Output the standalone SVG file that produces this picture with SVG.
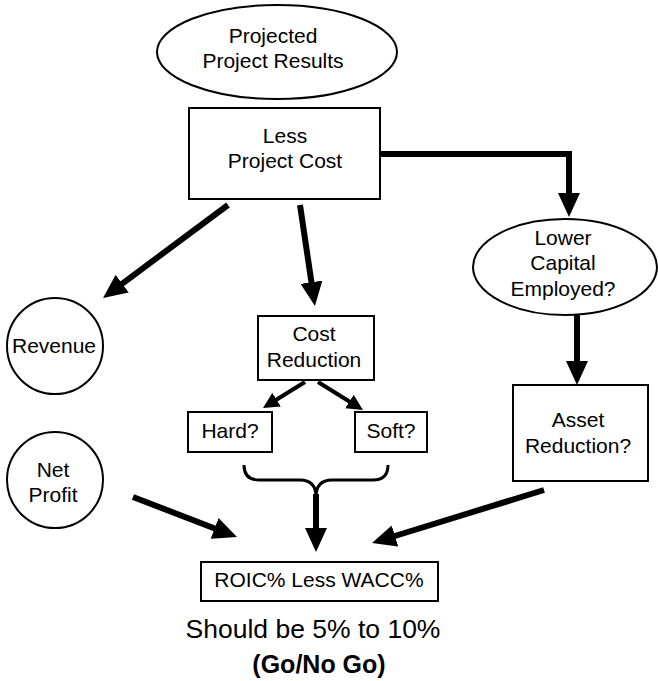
<svg xmlns="http://www.w3.org/2000/svg" width="658" height="681" viewBox="0 0 658 681">
  <style>
    .shape { fill: #ffffff; stroke: #000000; stroke-width: 2; }
    .label { font-family: "Liberation Sans", Arial, Helvetica, sans-serif; font-size: 21px; fill: #000000; text-anchor: middle; }
    .big { font-family: "Liberation Sans", Arial, Helvetica, sans-serif; font-size: 26.5px; fill: #000000; text-anchor: middle; }
    .bold { font-family: "Liberation Sans", Arial, Helvetica, sans-serif; font-size: 25px; font-weight: bold; fill: #000000; text-anchor: middle; }
    .thick { fill: none; stroke: #000000; stroke-width: 6; marker-end: url(#head); }
    .medium { fill: none; stroke: #000000; stroke-width: 4; marker-end: url(#headSmall); }
    .brace { fill: none; stroke: #000000; stroke-width: 3; }
  </style>
  <defs>
    <marker id="head" markerUnits="userSpaceOnUse" markerWidth="24" markerHeight="22" refX="12" refY="11" orient="auto">
      <path d="M0,0 L24,11 L0,22 z" fill="#000000"/>
    </marker>
    <marker id="headSmall" markerUnits="userSpaceOnUse" markerWidth="16" markerHeight="16" refX="8" refY="8" orient="auto">
      <path d="M0,0 L16,8 L0,16 z" fill="#000000"/>
    </marker>
  </defs>

  <rect width="658" height="681" fill="#ffffff"/>

  <!-- connectors -->
  <g id="connectors">
    <line class="thick" x1="228" y1="205" x2="112.6" y2="290.8"/>
    <line class="thick" x1="300" y1="205" x2="313.2" y2="294.1"/>
    <polyline class="thick" stroke-linejoin="miter" points="380,154 569,154 569,205"/>
    <line class="thick" x1="577" y1="315" x2="577" y2="373"/>
    <line class="medium" x1="305" y1="382" x2="269.8" y2="403.8"/>
    <line class="medium" x1="318" y1="382" x2="356.2" y2="405.8"/>
    <path class="brace" d="M244,465 Q244,480 259,480 L300,480 Q316,480 316,497"/>
    <path class="brace" d="M388,465 Q388,480 373,480 L332,480 Q316,480 316,497"/>
    <line class="thick" x1="316" y1="494" x2="316" y2="540"/>
    <line class="thick" x1="133" y1="497" x2="225.8" y2="532.7"/>
    <line class="thick" x1="544" y1="490" x2="383.5" y2="539.5"/>
  </g>

  <!-- nodes -->
  <g id="projected-results">
    <ellipse class="shape" cx="277" cy="52" rx="120" ry="47"/>
    <text class="label" x="273" y="43">Projected</text>
    <text class="label" x="273" y="68">Project Results</text>
  </g>

  <g id="less-project-cost">
    <rect class="shape" x="189" y="108" width="191" height="91"/>
    <text class="label" x="285" y="143">Less</text>
    <text class="label" x="285" y="168">Project Cost</text>
  </g>

  <g id="lower-capital">
    <ellipse class="shape" cx="565" cy="267" rx="92" ry="48"/>
    <text class="label" x="563" y="245">Lower</text>
    <text class="label" x="563" y="270">Capital</text>
    <text class="label" x="563" y="296">Employed?</text>
  </g>

  <g id="revenue">
    <circle class="shape" cx="55" cy="346" r="48"/>
    <text class="label" x="54" y="353">Revenue</text>
  </g>

  <g id="cost-reduction">
    <rect class="shape" x="258" y="316" width="116" height="64"/>
    <text class="label" x="314" y="341">Cost</text>
    <text class="label" x="314" y="367">Reduction</text>
  </g>

  <g id="asset-reduction">
    <rect class="shape" x="513" y="385" width="135" height="96"/>
    <text class="label" x="578" y="427">Asset</text>
    <text class="label" x="578" y="453">Reduction?</text>
  </g>

  <g id="hard">
    <rect class="shape" x="188" y="412" width="84" height="40"/>
    <text class="label" x="230" y="438">Hard?</text>
  </g>

  <g id="soft">
    <rect class="shape" x="355" y="412" width="72" height="40"/>
    <text class="label" x="391" y="438">Soft?</text>
  </g>

  <g id="net-profit">
    <circle class="shape" cx="55" cy="480" r="48"/>
    <text class="label" x="53" y="477">Net</text>
    <text class="label" x="53" y="502">Profit</text>
  </g>

  <g id="roic-less-wacc">
    <rect class="shape" x="201" y="562" width="237" height="39"/>
    <text class="label" x="319" y="587">ROIC% Less WACC%</text>
  </g>

  <g id="verdict">
    <text class="big" x="313" y="638">Should be 5% to 10%</text>
    <text class="bold" x="319" y="673">(Go/No Go)</text>
  </g>
</svg>
